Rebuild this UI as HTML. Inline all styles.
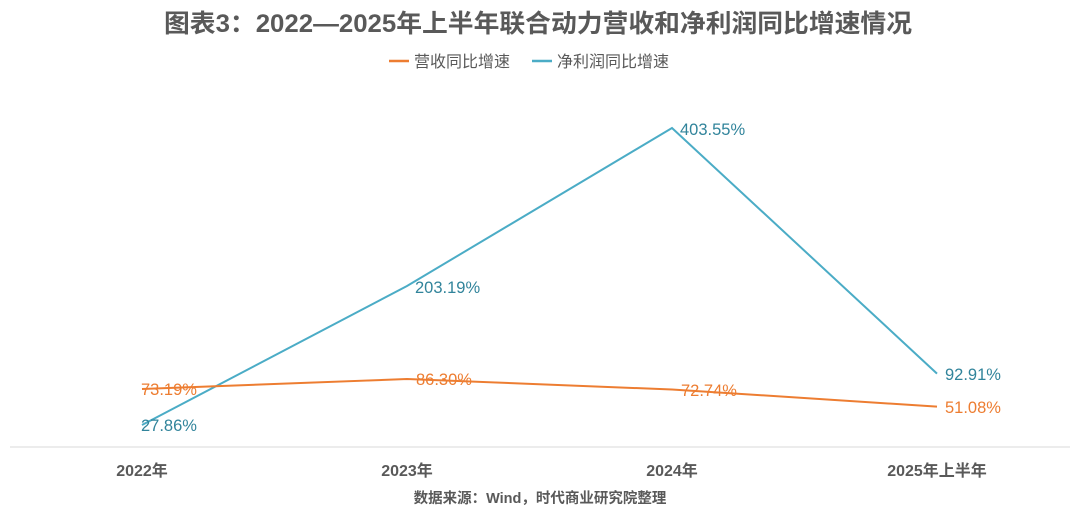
<!DOCTYPE html>
<html><head><meta charset="utf-8"><style>
body{margin:0;background:#fff;}
svg{display:block;font-family:"Liberation Sans","Noto Sans CJK SC",sans-serif;}
</style></head><body>
<svg width="1080" height="520" viewBox="0 0 1080 520">
<text x="538" y="32" text-anchor="middle" font-size="25" font-weight="bold" fill="#595959" textLength="748" lengthAdjust="spacingAndGlyphs">图表3：2022—2025年上半年联合动力营收和净利润同比增速情况</text>
<line x1="389" y1="61" x2="409" y2="61" stroke="#ED7D31" stroke-width="2.5"/>
<text x="414" y="67" font-size="16" fill="#595959">营收同比增速</text>
<line x1="532" y1="61" x2="552" y2="61" stroke="#4BACC6" stroke-width="2.5"/>
<text x="557" y="67" font-size="16" fill="#595959">净利润同比增速</text>
<line x1="10" y1="447" x2="1070" y2="447" stroke="#d9d9d9" stroke-width="1"/>
<polyline points="142,425 407,286 672,128 937,373.6" fill="none" stroke="#4BACC6" stroke-width="2"/>
<polyline points="142,389 407,379 672,389.5 937,406.6" fill="none" stroke="#ED7D31" stroke-width="2"/>
<g font-size="16.5">
<text x="141" y="395" fill="#ED7D31">73.19%</text>
<text x="416" y="385" fill="#ED7D31">86.30%</text>
<text x="681" y="396" fill="#ED7D31">72.74%</text>
<text x="945" y="413" fill="#ED7D31">51.08%</text>
<text x="141" y="431" fill="#31849B">27.86%</text>
<text x="415" y="293" fill="#31849B">203.19%</text>
<text x="680" y="135" fill="#31849B">403.55%</text>
<text x="945" y="380" fill="#31849B">92.91%</text>
</g>
<g font-size="16" font-weight="bold" fill="#595959" text-anchor="middle">
<text x="142" y="476">2022年</text>
<text x="407" y="476">2023年</text>
<text x="672" y="476">2024年</text>
<text x="937" y="476">2025年上半年</text>
</g>
<text x="540" y="503" text-anchor="middle" font-size="14.5" font-weight="bold" fill="#595959">数据来源：Wind，时代商业研究院整理</text>
</svg>
</body></html>
